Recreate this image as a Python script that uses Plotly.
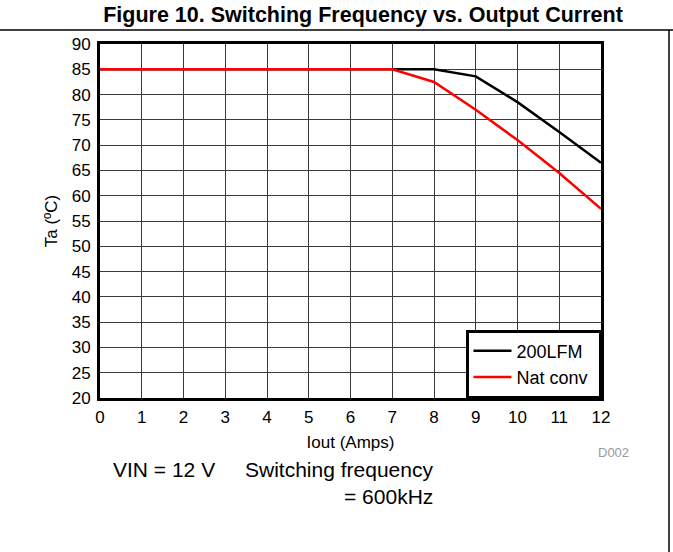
import plotly.graph_objects as go

# Data
iout = [0, 1, 2, 3, 4, 5, 6, 7, 8, 9, 10, 11, 12]
ta_200lfm = [85, 85, 85, 85, 85, 85, 85, 85, 85, 83.6, 78.5, 72.6, 66.5]
ta_natconv = [85, 85, 85, 85, 85, 85, 85, 85, 82.5, 77, 71, 64.5, 57.4]
series_names = ["200LFM", "Nat conv"]
x_ticks = list(range(0, 13))
y_ticks = list(range(20, 95, 5))

FONT = "Liberation Sans, Arial, sans-serif"

fig = go.Figure()
fig.add_trace(go.Scatter(x=iout, y=ta_200lfm, mode="lines", name=series_names[0] + "\u00a0",
                         line=dict(color="#000000", width=2.5)))
fig.add_trace(go.Scatter(x=iout, y=ta_natconv, mode="lines", name=series_names[1] + "\u00a0",
                         line=dict(color="#ff0000", width=2.5)))

# screen plot area: x 100..601, y 44..398 (body margin removed via post_script)
W, H = 673, 552
L, T = 100, 44
R = W - 601
B = H - 398
pw, ph = W - L - R, H - T - B

def px(x):  # screen x -> paper
    return (x - L) / pw

def py(y):  # screen y -> paper
    return (H - B - y) / ph

axis_common = dict(
    showgrid=True, gridcolor="#3a3a3a", gridwidth=1,
    showline=True, linecolor="#000000", linewidth=3, mirror=True,
    zeroline=False, ticks="", tickfont=dict(family=FONT, size=17, color="#000"),
)

fig.update_xaxes(range=[0, 12], tickvals=x_ticks, ticklabelstandoff=2, **axis_common,
                 title=dict(text="Iout (Amps)", font=dict(family=FONT, size=17, color="#000"), standoff=10))
fig.update_yaxes(range=[20, 90], tickvals=y_ticks, ticklabelstandoff=3, **axis_common,
                 title=dict(text="Ta (ºC)", font=dict(family=FONT, size=17, color="#000"), standoff=10))

fig.update_layout(
    width=W, height=H,
    margin=dict(l=L, r=R, t=T, b=B, autoexpand=False),
    paper_bgcolor="white", plot_bgcolor="white",
    font=dict(family=FONT, color="#000"),
    title=dict(text="<b>Figure 10. Switching Frequency vs. Output Current</b>",
               font=dict(family=FONT, size=21.5, color="#000"),
               x=px(363), xref="paper", xanchor="center",
               y=1 - 14 / H, yref="container", yanchor="middle"),
    legend=dict(x=1, xanchor="right", y=0, yanchor="bottom",
                bgcolor="white", bordercolor="#000", borderwidth=2.5,
                font=dict(family=FONT, size=18, color="#000"),
                itemwidth=38),
    showlegend=True,
    hovermode=False,
    shapes=[
        dict(type="line", xref="paper", yref="paper", x0=px(0), x1=px(673), y0=py(30), y1=py(30),
             line=dict(color="#000", width=1.5)),
        dict(type="line", xref="paper", yref="paper", x0=px(669), x1=px(669), y0=py(30), y1=py(552),
             line=dict(color="#000", width=1.5)),
    ],
    annotations=[
        dict(text="VIN = 12 V", xref="paper", yref="paper", x=px(111), y=py(470),
             xanchor="left", yanchor="middle", showarrow=False,
             font=dict(family=FONT, size=21, color="#000")),
        dict(text="Switching frequency", xref="paper", yref="paper", x=px(435), y=py(470),
             xanchor="right", yanchor="middle", showarrow=False,
             font=dict(family=FONT, size=21, color="#000")),
        dict(text="= 600kHz", xref="paper", yref="paper", x=px(435), y=py(496),
             xanchor="right", yanchor="middle", showarrow=False,
             font=dict(family=FONT, size=21, color="#000")),
        dict(text="D002", xref="paper", yref="paper", x=px(613), y=py(452),
             xanchor="center", yanchor="middle", showarrow=False,
             font=dict(family=FONT, size=13, color="#999")),
    ],
)

fig.write_html("out.html",
               config={"displayModeBar": False},
               post_script="document.body.style.margin='0';document.body.style.overflow='hidden';")
